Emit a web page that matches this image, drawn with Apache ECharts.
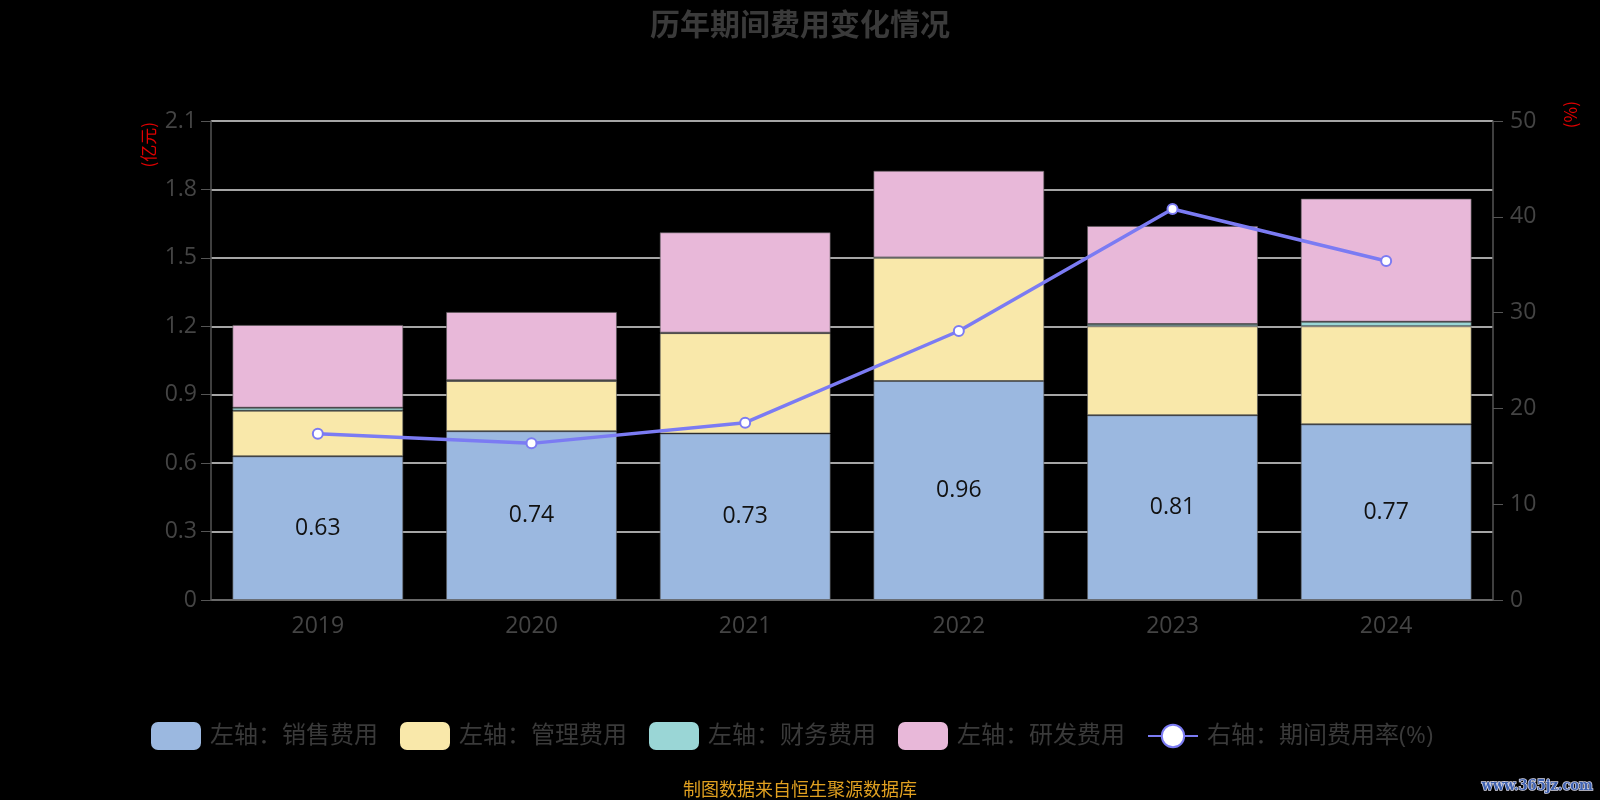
<!DOCTYPE html>
<html><head><meta charset="utf-8">
<script src="https://cdn.jsdelivr.net/npm/echarts@6/dist/echarts.min.js"></script>
<style>html,body{margin:0;padding:0;background:#000;}#c{width:1600px;height:800px;}</style>
</head><body><div id="c"></div>
<script>
const years = ['2019','2020','2021','2022','2023','2024'];
const sales = [0.63, 0.74, 0.73, 0.96, 0.81, 0.77];
const admin = [0.20, 0.22, 0.44, 0.54, 0.39, 0.43];
const finance = [0.013, 0.003, 0.002, 0.002, 0.01, 0.02];
const rnd = [0.363, 0.30, 0.44, 0.38, 0.43, 0.54];
const rate = [17.36, 16.35, 18.51, 28.08, 40.81, 35.39];
const seriesNames = ['左轴：销售费用','左轴：管理费用','左轴：财务费用','左轴：研发费用','右轴：期间费用率(%)'];
const leftTicks = {min: 0, max: 2.1, interval: 0.3};
const rightTicks = {min: 0, max: 50, interval: 10};

const font = "'Open Sans','Noto Sans CJK SC',sans-serif";
const cjk = "'Noto Sans CJK SC','Open Sans',sans-serif";
const chart = echarts.init(document.getElementById('c'));
const barBorder = {borderColor: 'rgba(90,90,90,0.6)', borderWidth: 1};
chart.setOption({
  backgroundColor: '#000',
  animation: false,
  title: {text: '历年期间费用变化情况', left: 'center', top: 4,
    textStyle: {color: '#3a3a3a', fontSize: 30, fontWeight: 'bold', fontFamily: cjk}},
  grid: {left: 211, right: 107, top: 121, bottom: 200},
  legend: {bottom: 45, left: 146, itemWidth: 50, itemHeight: 28, itemGap: 22,
    textStyle: {color: '#3a3a3a', fontSize: 24, fontFamily: font, padding: [0, 0, 0, 4]},
    data: seriesNames.map((n, i) => i < 4 ? {name: n, itemStyle: {borderWidth: 0}} : {name: n})},
  xAxis: {type: 'category', data: years,
    axisLine: {lineStyle: {color: '#555', width: 1.5}},
    axisTick: {length: 10, lineStyle: {color: '#555'}},
    axisLabel: {color: '#444', fontSize: 23, margin: 15, fontFamily: font}},
  yAxis: [
    {type: 'value', min: leftTicks.min, max: leftTicks.max, interval: leftTicks.interval,
      axisLine: {show: true, lineStyle: {color: '#555', width: 1.5}},
      axisTick: {show: true, length: 10, lineStyle: {color: '#555'}},
      axisLabel: {color: '#444', fontSize: 23, margin: 14, fontFamily: font,
        formatter: v => (Math.round(v*10)/10).toString()},
      splitLine: {lineStyle: {color: '#ddd', width: 1.5}}},
    {type: 'value', min: rightTicks.min, max: rightTicks.max, interval: rightTicks.interval,
      axisLine: {show: true, lineStyle: {color: '#555', width: 1.5}},
      axisTick: {show: true, length: 10, lineStyle: {color: '#555'}},
      axisLabel: {color: '#444', fontSize: 23, margin: 17, fontFamily: font},
      splitLine: {show: false}}
  ],
  graphic: [
    {type: 'text', left: 140, top: 122, rotation: Math.PI/2,
      style: {text: '(亿元)', fill: '#e00000', fontSize: 17, fontFamily: cjk}},
    {type: 'text', left: 1562, top: 101, rotation: Math.PI/2,
      style: {text: '(%)', fill: '#e00000', fontSize: 17, fontFamily: cjk}},
    {type: 'text', left: 'center', bottom: 2,
      style: {text: '制图数据来自恒生聚源数据库', fill: '#e0a020', fontSize: 18, fontFamily: cjk}},
    {type: 'text', left: 1481, bottom: 6,
      style: {text: 'www.365jz.com', fill: '#3f62b0', stroke: '#d8d8e8', lineWidth: 1.5, fontSize: 14.5, fontWeight: 'bold', fontFamily: "'DejaVu Serif Condensed','Liberation Serif',serif"}}
  ],
  series: [
    {name: seriesNames[0], type: 'bar', stack: 'a', barWidth: '80%', data: sales,
      itemStyle: Object.assign({color: '#9bb8e0'}, barBorder),
      label: {show: true, position: 'inside', color: '#111', fontSize: 23, fontFamily: font}},
    {name: seriesNames[1], type: 'bar', stack: 'a', data: admin,
      itemStyle: Object.assign({color: '#f9e8aa'}, barBorder)},
    {name: seriesNames[2], type: 'bar', stack: 'a', data: finance,
      itemStyle: Object.assign({color: '#9ad6d6'}, barBorder)},
    {name: seriesNames[3], type: 'bar', stack: 'a', data: rnd,
      itemStyle: Object.assign({color: '#e8b8d9'}, barBorder)},
    {name: seriesNames[4], type: 'line', yAxisIndex: 1, data: rate,
      symbol: 'circle', symbolSize: 10,
      lineStyle: {color: '#7b7bf3', width: 3.5},
      itemStyle: {color: '#fff', borderColor: '#7b7bf3', borderWidth: 2}}
  ]
});
</script></body></html>
